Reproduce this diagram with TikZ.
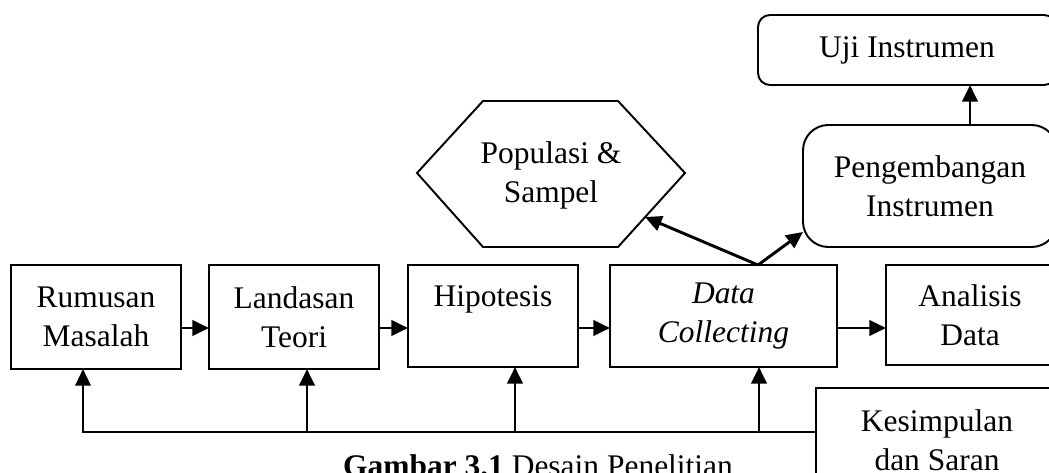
\documentclass[tikz,border=0pt]{standalone}
\usepackage{fontspec}
\setmainfont{Liberation Serif}
\usetikzlibrary{arrows.meta}
\begin{document}
\begin{tikzpicture}[x=0.75pt,y=-0.75pt,
  txt/.style={align=center,font=\fontsize{23.6}{29.3}\selectfont,inner sep=0pt,outer sep=0pt},
  box/.style={txt,draw,line width=1.45pt},
  arr/.style={line width=2.2pt,-{Triangle[length=12.5pt,width=11.5pt]}},
  fbline/.style={line width=1.7pt}]
\useasboundingbox (0,0) rectangle (1049,473);
\clip (0,0) rectangle (1049,473);
% boxes
\node[box,minimum width=127.5pt,minimum height=78pt] (R) at (96,317) {Rumusan\\Masalah};
\node[box,minimum width=127.5pt,minimum height=78pt] (L) at (294,317) {Landasan\\Teori};
\node[box,minimum width=127.5pt,minimum height=76.5pt] (H) at (493,316) {Hipotesis\\\mbox{}};
\node[box,minimum width=170.25pt,minimum height=76.5pt] (D) at (723.5,316) {\itshape Data\\\itshape Collecting};
\node[box,minimum width=126pt,minimum height=75pt] (A) at (970,315) {Analisis\\Data};
\node[box,rounded corners=19pt,minimum width=190.5pt,minimum height=91.5pt] (P) at (930,186) {Pengembangan\\Instrumen};
\node[box,rounded corners=9pt,minimum width=223.5pt,minimum height=52.5pt] (U) at (907,50) {Uji Instrumen};
\node[box,minimum width=181.5pt,minimum height=78pt] (K) at (937,440) {Kesimpulan\\dan Saran};
% hexagon
\coordinate (h1) at (417,173);
\coordinate (h2) at (483,101);
\coordinate (h3) at (618,101);
\coordinate (h4) at (685,173);
\coordinate (h5) at (618,247);
\coordinate (h6) at (483,247);
\draw[line width=1.45pt,line join=miter] (h1) -- (h2) -- (h3) -- (h4) -- (h5) -- (h6) -- cycle;
\node[txt] (S) at (551,175) {Populasi \&\\Sampel};
% helper coordinates
\coordinate (ay) at (0,328);
\coordinate (fb) at (0,432);
\coordinate (c1) at (83,0);
\coordinate (c2) at (307,0);
\coordinate (c3) at (515,0);
\coordinate (c4) at (759,0);
\coordinate (c5) at (970,0);
\coordinate (dtop) at (758,265);
\coordinate (hx) at (645,217);
\coordinate (px) at (803,232);
% horizontal arrows
\draw[arr] (R.east |- ay) -- (L.west |- ay);
\draw[arr] (L.east |- ay) -- (H.west |- ay);
\draw[arr] (H.east |- ay) -- (D.west |- ay);
\draw[arr] (D.east |- ay) -- (A.west |- ay);
% upward arrows
\draw[arr] (dtop) -- (hx);
\draw[arr] (dtop) -- (px);
\draw[arr] (P.north -| c5) -- (U.south -| c5);
% feedback
\draw[fbline,-{Triangle[length=12.5pt,width=11.5pt]}] (K.west |- fb) -| (R.south -| c1);
\draw[arr] (c2 |- fb) -- (L.south -| c2);
\draw[arr] (c3 |- fb) -- (H.south -| c3);
\draw[arr] (c4 |- fb) -- (D.south -| c4);
% caption
\node[txt,anchor=base] (cap) at (538,476) {\textbf{Gambar 3.1} Desain Penelitian};
\end{tikzpicture}
\end{document}
